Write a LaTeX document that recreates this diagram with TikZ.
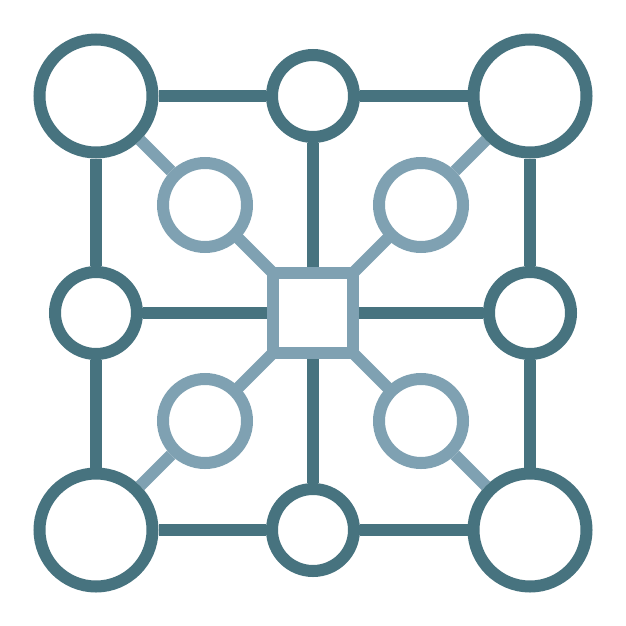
\documentclass[tikz,border=0pt]{standalone}
\usetikzlibrary{positioning,backgrounds}
\definecolor{gridteal}{HTML}{47737F}
\definecolor{hubblue}{HTML}{7FA1B2}
\begin{document}
\begin{tikzpicture}[x=1pt, y=-1pt, line width=12pt,
                      every node/.style = {draw, fill=white, inner sep=0pt,
                        line width=12pt},
                      bigring/.style = {circle, draw=gridteal, minimum size=113pt},
                      ring/.style = {circle, draw=gridteal, minimum size=82pt},
                      hubring/.style = {circle, draw=hubblue, minimum size=84pt},
                      hub/.style = {rectangle, draw=hubblue, minimum size=80pt}]
                      \useasboundingbox (0,0) rectangle (626,626);
                      \node[hub] (hub) at (313,313) {};
                      \node[bigring] (tl) at (96,96) {};
                      \node[ring] (tm) at (313,96) {};
                      \node[bigring] (tr) at (530,96) {};
                      \node[ring] (ml) at (96,313) {};
                      \node[ring] (mr) at (530,313) {};
                      \node[bigring] (bl) at (96,530) {};
                      \node[ring] (bm) at (313,530) {};
                      \node[bigring] (br) at (530,530) {};
                      \node[hubring] (htl) at (205,205) {};
                      \node[hubring] (htr) at (421,205) {};
                      \node[hubring] (hbl) at (205,421) {};
                      \node[hubring] (hbr) at (421,421) {};
                      \draw[gridteal] (tl) -- (tm) -- (tr) -- (mr) -- (br)
                        -- (bm) -- (bl) -- (ml) -- (tl);
                      \draw[gridteal] (tm) -- (hub) -- (bm)
                        (ml) -- (hub) -- (mr);
                      \draw[hubblue] (tl) -- (htl) (hbr) -- (br)
                        (tr) -- (htr) (hbl) -- (bl);
                      \begin{pgfonlayer}{background}
                        \draw[hubblue, line width=12pt] (htl.center) -- (hbr.center)
                          (htr.center) -- (hbl.center);
                      \end{pgfonlayer}
                    \end{tikzpicture}
\end{document}
